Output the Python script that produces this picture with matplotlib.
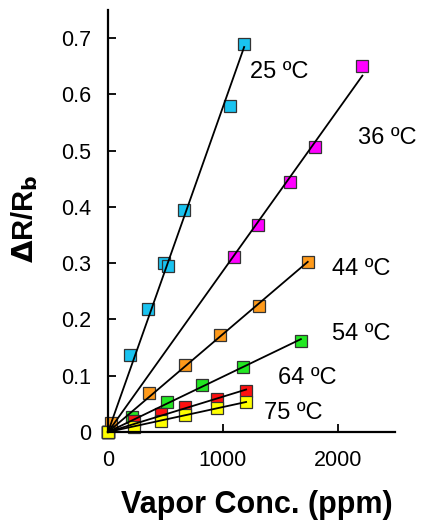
import numpy as np
import matplotlib
matplotlib.use("Agg")
import matplotlib.pyplot as plt

plt.rcParams['font.family'] = ['Liberation Sans', 'DejaVu Sans']

temps = ["25 ºC", "36 ºC", "44 ºC", "54 ºC", "64 ºC", "75 ºC"]
colors = ["#19C3F0", "#FF00FF", "#FF9A1A", "#22E822", "#FF1010", "#FFFF00"]

x25 = [0, 190, 346, 484, 519, 658, 1065, 1186]
y25 = [0, 0.137, 0.219, 0.300, 0.295, 0.395, 0.580, 0.690]
x36 = [0, 1100, 1307, 1584, 1801, 2216]
y36 = [0, 0.311, 0.368, 0.445, 0.507, 0.650]
x44 = [0, 30, 355, 667, 978, 1316, 1740]
y44 = [0, 0.016, 0.069, 0.119, 0.172, 0.224, 0.302]
x54 = [0, 208, 511, 822, 1177, 1680]
y54 = [0, 0.027, 0.053, 0.083, 0.116, 0.162]
x64 = [0, 225, 459, 675, 952, 1203]
y64 = [0, 0.020, 0.032, 0.045, 0.058, 0.073]
x75 = [0, 225, 459, 675, 952, 1203]
y75 = [0, 0.009, 0.020, 0.030, 0.043, 0.053]

xs = [x25, x36, x44, x54, x64, x75]
ys = [y25, y36, y44, y54, y64, y75]

label_x = [1238, 2182, 1948, 1948, 1480, 1359]
label_y = [0.639, 0.523, 0.290, 0.174, 0.096, 0.034]

xticks = [0, 1000, 2000]
yticks = [0, 0.1, 0.2, 0.3, 0.4, 0.5, 0.6, 0.7]
ytick_labels = ["0", "0.1", "0.2", "0.3", "0.4", "0.5", "0.6", "0.7"]

fig = plt.figure(figsize=(4.31, 5.26), dpi=100)
ax = fig.add_axes([108/431, 1-432/526, (395-108)/431, (432-10)/526])

for i, (x, y, c) in enumerate(zip(xs, ys, colors)):
    ax.plot(x, y, 's', color=c, markersize=9.3, markeredgecolor='#333333',
            markeredgewidth=0.9, zorder=2+i*0.01, clip_on=False)

for x, y in zip(xs, ys):
    xa = np.array(x, float); ya = np.array(y, float)
    k = np.sum(xa*ya) / np.sum(xa*xa)
    xx = np.array([0, xa.max()])
    ax.plot(xx, k*xx, color='black', lw=1.3, zorder=5, clip_on=False)

for t, lx, ly in zip(temps, label_x, label_y):
    ax.text(lx, ly, t, fontsize=17, va='center', ha='left')

ax.set_xlim(0, 2500)
ax.set_ylim(0, 0.75)
ax.set_xticks(xticks)
ax.set_yticks(yticks)
ax.set_yticklabels(ytick_labels)
ax.tick_params(direction='in', length=6, width=1.3, labelsize=15.5)
ax.tick_params(axis='y', pad=12)
ax.tick_params(axis='x', pad=13)
for s in ['top', 'right']:
    ax.spines[s].set_visible(False)
for s in ['left', 'bottom']:
    ax.spines[s].set_linewidth(1.6)

ax.set_xlabel("Vapor Conc. (ppm)", fontsize=22, fontweight='bold')
ax.set_ylabel(r"$\mathbf{\Delta}$R/R$_\mathbf{b}$", fontsize=21, fontweight='bold')
ax.yaxis.set_label_coords(-0.237, 0.505)
ax.xaxis.set_label_coords(0.517, -0.137)

fig.savefig("out.png", dpi=100)
